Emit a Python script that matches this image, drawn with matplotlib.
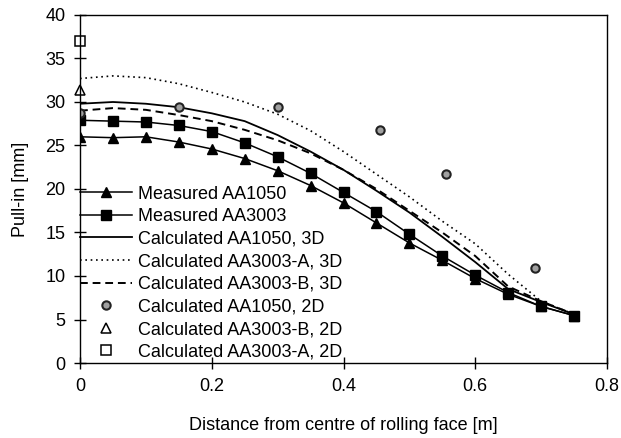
import matplotlib
matplotlib.use('Agg')
import matplotlib.pyplot as plt

plt.rcParams['font.family'] = ['Liberation Sans', 'DejaVu Sans']
plt.rcParams['font.size'] = 13

# distance from centre [m]
x = [0, 0.05, 0.1, 0.15, 0.2, 0.25, 0.3, 0.35, 0.4, 0.45, 0.5, 0.55, 0.6, 0.65, 0.7, 0.75]

meas_1050 = [26.0, 25.9, 26.0, 25.4, 24.6, 23.5, 22.1, 20.4, 18.4, 16.1, 13.8, 11.8, 9.7, 7.9, 6.5, 5.45]
meas_3003 = [27.9, 27.8, 27.7, 27.3, 26.6, 25.3, 23.7, 21.8, 19.6, 17.4, 14.8, 12.3, 10.1, 8.1, 6.5, 5.45]

calc_1050_3d = [29.8, 30.0, 29.8, 29.4, 28.7, 27.8, 26.2, 24.3, 22.2, 19.8, 17.3, 14.5, 11.6, 8.5, 7.0, 5.6]
calc_3003a_3d = [32.7, 33.0, 32.8, 32.1, 31.1, 30.0, 28.6, 26.7, 24.3, 21.7, 19.1, 16.3, 13.7, 10.2, 7.1, 5.6]
calc_3003b_3d = [29.0, 29.3, 29.1, 28.5, 27.8, 26.8, 25.6, 24.1, 22.2, 20.0, 17.5, 15.0, 12.3, 8.8, 7.1, 5.6]

# 2D results
x_1050_2d = [0, 0.15, 0.3, 0.455, 0.555, 0.69]
calc_1050_2d = [28.7, 29.4, 29.4, 26.8, 21.7, 10.95]
x_3003b_2d = [0]
calc_3003b_2d = [31.4]
x_3003a_2d = [0]
calc_3003a_2d = [37.0]

fig = plt.figure(figsize=(6.21, 4.38), dpi=100)
ax = fig.add_axes([80/621, 1 - 363/438, 527/621, 348/438])

ax.plot(x, meas_1050, color='k', lw=1.1, marker='^', ms=7, label='Measured AA1050')
ax.plot(x, meas_3003, color='k', lw=1.1, marker='s', ms=7, label='Measured AA3003')
ax.plot(x, calc_1050_3d, color='k', lw=1.3, label='Calculated AA1050, 3D')
ax.plot(x, calc_3003a_3d, color='k', lw=1.2, ls=(0, (1, 2.2)), label='Calculated AA3003-A, 3D')
ax.plot(x, calc_3003b_3d, color='k', lw=1.4, ls=(0, (4, 2.5)), label='Calculated AA3003-B, 3D')
ax.plot(x_1050_2d, calc_1050_2d, ls='none', marker='o', ms=6, mfc='#a0a0a0', mec='#222222', mew=1.5,
        label='Calculated AA1050, 2D')
ax.plot(x_3003b_2d, calc_3003b_2d, ls='none', marker='^', ms=7, mfc='white', mec='k', mew=1.1,
        label='Calculated AA3003-B, 2D', clip_on=False)
ax.plot(x_3003a_2d, calc_3003a_2d, ls='none', marker='s', ms=7, mfc='white', mec='k', mew=1.1,
        label='Calculated AA3003-A, 2D', clip_on=False)

ax.set_xlim(0, 0.8)
ax.set_ylim(0, 40)
ax.set_xticks([0, 0.2, 0.4, 0.6, 0.8])
ax.set_xticklabels(['0', '0.2', '0.4', '0.6', '0.8'])
ax.set_yticks(range(0, 41, 5))
ax.tick_params(direction='inout', length=9, width=1, pad=6)
for s in ax.spines.values():
    s.set_linewidth(1.0)

ax.set_xlabel('Distance from centre of rolling face [m]', labelpad=16)
ax.set_ylabel('Pull-in [mm]', labelpad=12)

ax.legend(loc='upper left', bbox_to_anchor=(0.0, 0.51), frameon=False, handlelength=2.9,
          handletextpad=0.3, labelspacing=0.31, borderaxespad=0, borderpad=0)

fig.savefig('out.png', dpi=100)
